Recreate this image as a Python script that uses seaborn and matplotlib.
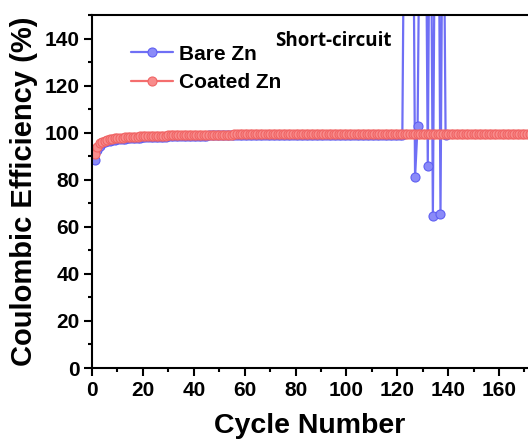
import matplotlib
matplotlib.use("Agg")
import matplotlib.pyplot as plt
import seaborn as sns
import pandas as pd
from matplotlib.ticker import MultipleLocator

sns.set_style("ticks")
plt.rcParams['font.family'] = ['Liberation Sans', 'DejaVu Sans']
plt.rcParams['text.color'] = 'black'
plt.rcParams['axes.labelcolor'] = 'black'
plt.rcParams['xtick.color'] = 'black'
plt.rcParams['ytick.color'] = 'black'
plt.rcParams['axes.edgecolor'] = 'black'

# ---- data ----
coated_ce = [
    90.8, 94.0, 95.4, 96.1, 96.6, 96.9, 97.2, 97.4, 97.6, 97.7,
    97.8, 97.9, 98.0, 98.1, 98.1, 98.2, 98.3, 98.3, 98.4, 98.4,
    98.5, 98.5, 98.5, 98.6, 98.6, 98.6, 98.7, 98.7, 98.7, 98.8,
    98.8, 98.8, 98.8, 98.9, 98.9, 98.9, 98.9, 99.0, 99.0, 99.0,
    99.0, 99.0, 99.1, 99.1, 99.1, 99.1, 99.1, 99.1, 99.2, 99.2,
    99.2, 99.2, 99.2, 99.2, 99.2, 99.3, 99.3, 99.3, 99.3, 99.3,
    99.3, 99.3, 99.3, 99.3, 99.4, 99.3, 99.4, 99.3, 99.4, 99.4,
    99.4, 99.3, 99.4, 99.4, 99.4, 99.4, 99.3, 99.4, 99.4, 99.4,
    99.4, 99.4, 99.4, 99.3, 99.4, 99.4, 99.4, 99.4, 99.4, 99.4,
    99.4, 99.4, 99.5, 99.4, 99.4, 99.4, 99.4, 99.5, 99.4, 99.4,
    99.4, 99.4, 99.5, 99.4, 99.4, 99.5, 99.4, 99.4, 99.4, 99.5,
    99.4, 99.4, 99.5, 99.4, 99.4, 99.4, 99.5, 99.4, 99.4, 99.5,
    99.4, 99.4, 99.4, 99.5, 99.4, 99.4, 99.5, 99.4, 99.4, 99.4,
    99.5, 99.4, 99.4, 99.5, 99.4, 99.4, 99.4, 99.5, 99.4, 99.4,
    99.5, 99.4, 99.4, 99.4, 99.5, 99.4, 99.4, 99.5, 99.4, 99.4,
    99.4, 99.5, 99.4, 99.4, 99.5, 99.4, 99.4, 99.4, 99.5, 99.4,
    99.4, 99.5, 99.4, 99.4, 99.4, 99.5, 99.4, 99.4, 99.5, 99.4,
    99.4, 99.4,
]
coated_cycles = list(range(1, len(coated_ce) + 1))

bare_ce = [
    88.3, 92.8, 94.5, 95.4, 95.9, 96.3, 96.6, 96.8, 97.0, 97.2,
    97.3, 97.4, 97.5, 97.6, 97.7, 97.7, 97.8, 97.9, 97.9, 98.0,
    98.0, 98.1, 98.1, 98.2, 98.2, 98.2, 98.3, 98.3, 98.3, 98.4,
    98.4, 98.4, 98.5, 98.5, 98.5, 98.5, 98.6, 98.6, 98.6, 98.6,
    98.7, 98.7, 98.7, 98.7, 98.7, 98.8, 98.8, 98.8, 98.8, 98.8,
    98.8, 98.9, 98.8, 98.9, 98.9, 98.9, 98.9, 98.9, 98.9, 98.9,
    99.0, 98.9, 99.0, 98.9, 99.0, 99.0, 98.9, 99.0, 99.0, 99.0,
    99.0, 99.0, 99.0, 99.0, 99.0, 99.1, 99.0, 99.0, 99.0, 99.1,
    99.0, 99.0, 99.1, 99.0, 99.1, 99.0, 99.1, 99.0, 99.1, 99.1,
    99.0, 99.1, 99.1, 99.0, 99.1, 99.1, 99.1, 99.0, 99.1, 99.1,
    99.1, 99.1, 99.0, 99.1, 99.1, 99.1, 99.1, 99.1, 99.0, 99.1,
    99.1, 99.1, 99.1, 99.1, 99.1, 99.0, 99.1, 99.1, 99.1, 99.1,
    99.0, 99.1,
    # short-circuit region (cycles 123-139)
    240.0, 260.0, 230.0, 250.0, 81.0, 103.0, 220.0, 260.0, 240.0, 86.0,
    250.0, 64.5, 230.0, 260.0, 65.5, 240.0, 99.1,
]
bare_cycles = list(range(1, len(bare_ce) + 1))

x_ticks = [0, 20, 40, 60, 80, 100, 120, 140, 160]
y_ticks = [0, 20, 40, 60, 80, 100, 120, 140]

blue = "#6f6ff5"
red = "#f46e6e"

df_bare = pd.DataFrame({"Cycle": bare_cycles, "CE": bare_ce})
df_coated = pd.DataFrame({"Cycle": coated_cycles, "CE": coated_ce})

fig = plt.figure(figsize=(5.28, 4.41), dpi=100)
ax = fig.add_axes([92 / 528, 73 / 441, 436 / 528, 353 / 441])

sns.lineplot(data=df_bare, x="Cycle", y="CE", ax=ax, color=blue, lw=1.6,
             marker="o", markersize=6.5, markeredgecolor="#5f5ff2",
             markerfacecolor="#8a8af8", markeredgewidth=0.8, label="Bare Zn")
sns.lineplot(data=df_coated, x="Cycle", y="CE", ax=ax, color=red, lw=1.6,
             marker="o", markersize=6.5, markeredgecolor="#f06464",
             markerfacecolor="#f88c8c", markeredgewidth=0.8, label="Coated Zn")

ax.set_xlim(0, 171.4)
ax.set_ylim(0, 150)
ax.set_xticks(x_ticks)
ax.set_yticks(y_ticks)
ax.xaxis.set_minor_locator(MultipleLocator(10))
ax.yaxis.set_minor_locator(MultipleLocator(10))
ax.tick_params(which="major", length=6, width=1.5, labelsize=15, pad=3)
ax.tick_params(which="minor", length=3, width=1.5)
for lab in ax.get_xticklabels() + ax.get_yticklabels():
    lab.set_fontweight("bold")
for s in ["left", "bottom", "top"]:
    ax.spines[s].set_linewidth(1.5)
ax.spines["right"].set_visible(False)

ax.set_xlabel("Cycle Number", fontsize=20.5, fontweight="bold", labelpad=10)
ax.set_ylabel("Coulombic Efficiency (%)", fontsize=21, fontweight="bold", labelpad=5)

ax.text(0.42, 0.955, "Short-circuit", transform=ax.transAxes, fontsize=13.5,
        fontweight="bold", family=["Open Sans", "DejaVu Sans"], va="top", ha="left")

leg = ax.legend(loc="upper left", bbox_to_anchor=(0.07, 0.94), frameon=False,
                fontsize=15, handlelength=2.0, handletextpad=0.3,
                labelspacing=0.45, borderaxespad=0)
for t in leg.get_texts():
    t.set_fontweight("bold")

fig.savefig("out.png", dpi=100)
